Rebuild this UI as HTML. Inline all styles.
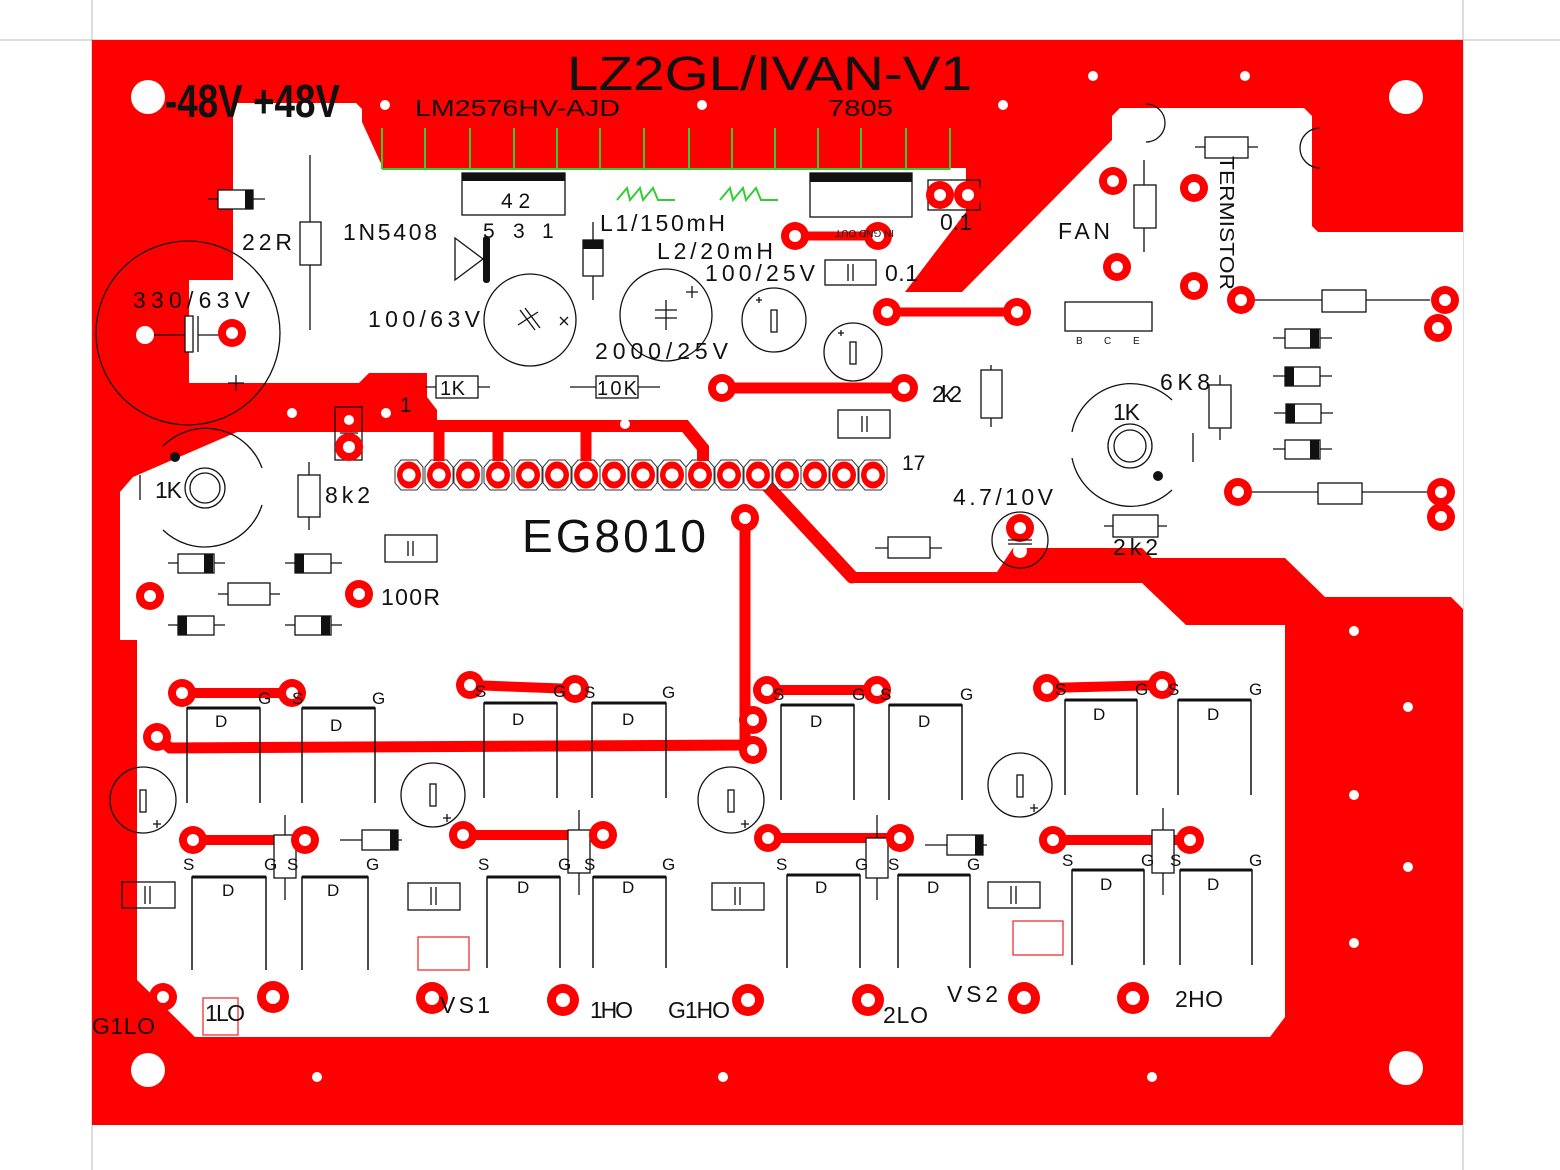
<!DOCTYPE html>
<html><head><meta charset="utf-8"><style>
html,body{margin:0;padding:0;background:#fff;}
svg{display:block;}
text{font-family:"Liberation Sans",sans-serif;fill:#111;}
</style></head><body>
<svg width="1560" height="1170" viewBox="0 0 1560 1170" xmlns="http://www.w3.org/2000/svg">
<defs>
<g id="pad"><circle r="14" fill="#f00"/><circle r="6" fill="#fff"/></g>
<g id="padb"><circle r="16" fill="#f00"/><circle r="7" fill="#fff"/></g>
<g id="hp"><path d="M-8,-15 L8,-15 L14,-8 L14,8 L8,15 L-8,15 L-14,8 L-14,-8 Z" fill="#fff" stroke="#333" stroke-width="1"/><ellipse rx="12" ry="13.5" fill="#f00"/><circle r="6.5" fill="#fff"/></g>
</defs>
<line x1="0" y1="40" x2="1560" y2="40" stroke="#bbb" stroke-width="1"/>
<line x1="92" y1="0" x2="92" y2="1170" stroke="#bbb" stroke-width="1"/>
<line x1="1463" y1="0" x2="1463" y2="1170" stroke="#bbb" stroke-width="1"/>
<rect x="92" y="40" width="1371" height="1085" fill="#f00"/>
<!-- white interior -->
<path d="M233,103 L356,103 L362,109 L362,122 L383,168 L966,168 L966,212 L905,292 L962,292 L1112,140 L1112,116 L1120,108 L1304,108 L1312,116 L1312,226 L1318,232 L1463,232 L1463,645 L1285,645 L1285,1017 L1270,1037 L195,1037 L137,980 L137,640 L120,640 L120,492 L133,477 L237,432 L237,383 L189,383 L189,280 L233,280 Z" fill="#fff"/>
<!-- left red band -->
<path d="M189,383 L359,383 L369,373 L427,373 L427,397 L437,410 L437,432 L237,432 Z" fill="#f00"/>
<!-- right-mid band -->
<path d="M850,572 L997,572 L1013,548 L1142,548 L1152,558 L1285,558 L1325,597 L1451,597 L1463,609 L1463,645 L1285,645 L1285,625 L1186,625 L1142,583 L850,583 Z" fill="#f00"/>
<!-- traces -->
<g stroke="#f00" stroke-linecap="round" fill="none">
<path d="M436,426 L685,426 L703,448 L703,475" stroke-width="12"/>
<line x1="439" y1="426" x2="439" y2="470" stroke-width="11"/>
<line x1="498" y1="426" x2="498" y2="470" stroke-width="11"/>
<line x1="586" y1="426" x2="586" y2="470" stroke-width="11"/>
<path d="M760,478 L852,577" stroke-width="13"/>
<line x1="722" y1="388" x2="904" y2="388" stroke-width="11"/>
<line x1="887" y1="312" x2="1017" y2="312" stroke-width="9"/>
<line x1="795" y1="236" x2="878" y2="236" stroke-width="9"/>
<path d="M745,518 L745,745 L170,748 L157,737" stroke-width="11"/>
<line x1="182" y1="693" x2="292" y2="693" stroke-width="10"/>
<line x1="470" y1="685" x2="575" y2="689" stroke-width="10"/>
<line x1="767" y1="690" x2="877" y2="690" stroke-width="10"/>
<line x1="1047" y1="688" x2="1162" y2="685" stroke-width="10"/>
<line x1="193" y1="840" x2="305" y2="840" stroke-width="10"/>
<line x1="463" y1="835" x2="603" y2="835" stroke-width="10"/>
<line x1="768" y1="838" x2="900" y2="838" stroke-width="10"/>
<line x1="1053" y1="840" x2="1190" y2="840" stroke-width="10"/>
</g>
<!-- white holes -->
<g fill="#fff">
<circle cx="148" cy="97" r="17"/><circle cx="1406" cy="97" r="17"/><circle cx="148" cy="1070" r="17"/><circle cx="1406" cy="1068" r="17"/>
<circle cx="385" cy="105" r="5"/><circle cx="702" cy="105" r="5"/><circle cx="1003" cy="105" r="5"/><circle cx="1093" cy="76" r="5"/><circle cx="1245" cy="76" r="5"/>
<circle cx="292" cy="413" r="5"/><circle cx="386" cy="413" r="5"/><circle cx="625" cy="424" r="5"/>
<circle cx="1354" cy="631" r="5"/><circle cx="1408" cy="707" r="5"/><circle cx="1354" cy="795" r="5"/><circle cx="1408" cy="867" r="5"/><circle cx="1354" cy="943" r="5"/>
<circle cx="317" cy="1077" r="5"/><circle cx="723" cy="1077" r="5"/><circle cx="1152" cy="1077" r="5"/>
</g>
<!-- green comb -->
<g stroke="#3c3" stroke-width="2" fill="none">
<line x1="382" y1="169" x2="950" y2="169"/>
<path d="M382,128V169M425,128V169M470,128V169M514,128V169M557,128V169M600,128V169M644,128V169M689,128V169M732,128V169M775,128V169M818,128V169M861,128V169M906,128V169M950,128V169"/>
<path d="M617,200 L627,188 L630,200 L640,188 L643,200 L653,188 L658,200 L675,200"/>
<path d="M720,200 L730,188 L733,200 L743,188 L746,200 L756,188 L761,200 L778,200"/>
</g>
<!-- titles -->
<text x="165" y="117" font-size="46" font-weight="bold" textLength="175" lengthAdjust="spacingAndGlyphs">-48V +48V</text>
<text x="567" y="90" font-size="48" textLength="405" lengthAdjust="spacingAndGlyphs">LZ2GL/IVAN-V1</text>
<text x="415" y="116" font-size="23" textLength="205" lengthAdjust="spacingAndGlyphs">LM2576HV-AJD</text>
<text x="828" y="116" font-size="23" textLength="65" lengthAdjust="spacingAndGlyphs">7805</text>
<!-- outlines (black) -->
<g stroke="#111" stroke-width="1.3" fill="none">
<line x1="208" y1="199" x2="265" y2="199"/><rect x="218" y="190" width="35" height="19" fill="#fff"/>
<line x1="310" y1="155" x2="310" y2="330"/><rect x="300" y="222" width="21" height="43" fill="#fff"/>
<circle cx="188" cy="333" r="92"/>
<line x1="153" y1="335" x2="185" y2="335"/><rect x="185" y="316" width="8" height="36" fill="#fff"/><line x1="198" y1="316" x2="198" y2="352"/><line x1="198" y1="335" x2="220" y2="335"/>
<line x1="228" y1="383" x2="244" y2="383"/><line x1="236" y1="375" x2="236" y2="391"/>
<rect x="462" y="173" width="103" height="42" fill="#fff"/>
<path d="M455,238 L455,280 L483,259 Z"/>
<circle cx="530" cy="320" r="46"/>
<path d="M520,310 L535,330 M525,308 L540,328 M518,325 L538,312"/><path d="M560,317 L568,325 M568,317 L560,325"/>
<line x1="593" y1="222" x2="593" y2="300"/><rect x="583" y="240" width="20" height="36" fill="#fff"/>
<circle cx="666" cy="315" r="46"/>
<line x1="655" y1="310" x2="677" y2="310"/><line x1="655" y1="318" x2="677" y2="318"/><line x1="666" y1="300" x2="666" y2="330"/>
<path d="M686,292 H698 M692,286 V298"/>
<rect x="810" y="173" width="102" height="44" fill="#fff"/>
<rect x="825" y="260" width="51" height="25"/><path d="M848,264V281M853,264V281"/>
<circle cx="774" cy="320" r="32"/><rect x="771" y="310" width="6" height="22"/><path d="M756,300h6M759,297v6"/>
<circle cx="853" cy="352" r="29"/><rect x="850" y="342" width="6" height="22"/><path d="M838,333h6M841,330v6"/>
<rect x="928" y="180" width="52" height="30"/>
<line x1="425" y1="387" x2="490" y2="387"/><rect x="436" y="376" width="42" height="22" fill="#fff"/>
<line x1="570" y1="387" x2="660" y2="387"/><rect x="596" y="376" width="42" height="22" fill="#fff"/>
<line x1="991" y1="365" x2="991" y2="427"/><rect x="981" y="370" width="21" height="48" fill="#fff"/>
<rect x="838" y="410" width="52" height="28"/><path d="M862,416V432M867,416V432"/>
<rect x="335" y="407" width="27" height="53"/>
<line x1="340" y1="433" x2="358" y2="433"/>
<circle cx="205" cy="488" r="20"/><circle cx="205" cy="488" r="15"/>
<path d="M163,446 A60,60 0 0 1 262,468 M262,505 A60,60 0 0 1 163,530"/>
<line x1="140" y1="475" x2="140" y2="500"/>
<line x1="309" y1="462" x2="309" y2="530"/><rect x="298" y="475" width="22" height="42" fill="#fff"/>
<rect x="385" y="535" width="52" height="27"/><path d="M408,541V556M413,541V556"/>
<line x1="168" y1="563" x2="225" y2="563"/><rect x="178" y="554" width="36" height="19" fill="#fff"/>
<line x1="285" y1="563" x2="342" y2="563"/><rect x="295" y="554" width="36" height="19" fill="#fff"/>
<line x1="168" y1="625" x2="225" y2="625"/><rect x="178" y="616" width="36" height="19" fill="#fff"/>
<line x1="285" y1="625" x2="342" y2="625"/><rect x="295" y="616" width="36" height="19" fill="#fff"/>
<line x1="218" y1="594" x2="280" y2="594"/><rect x="228" y="583" width="42" height="22" fill="#fff"/>
<line x1="1144" y1="160" x2="1144" y2="252"/><rect x="1134" y="185" width="22" height="43" fill="#fff"/>
<line x1="1195" y1="147" x2="1258" y2="147"/><rect x="1205" y="137" width="43" height="21" fill="#fff"/>
<path d="M1146,104 A19,19 0 1,1 1146,142"/><path d="M1320,128 A20,20 0 1,0 1320,168"/>
<rect x="1065" y="302" width="87" height="29"/>
<line x1="1255" y1="300" x2="1430" y2="300"/><rect x="1322" y="290" width="44" height="22" fill="#fff"/>
<line x1="1252" y1="492" x2="1428" y2="492"/><rect x="1318" y="483" width="44" height="21" fill="#fff"/>
<line x1="1273" y1="338" x2="1332" y2="338"/><rect x="1285" y="329" width="35" height="19" fill="#fff"/>
<line x1="1273" y1="376" x2="1332" y2="376"/><rect x="1285" y="367" width="35" height="19" fill="#fff"/>
<line x1="1274" y1="413" x2="1333" y2="413"/><rect x="1286" y="404" width="35" height="19" fill="#fff"/>
<line x1="1273" y1="449" x2="1332" y2="449"/><rect x="1285" y="440" width="35" height="19" fill="#fff"/>
<line x1="1220" y1="375" x2="1220" y2="440"/><rect x="1209" y="385" width="22" height="43" fill="#fff"/>
<circle cx="1130" cy="446" r="22"/><circle cx="1130" cy="446" r="16"/>
<path d="M1072,432 A60,60 0 0 1 1172,400 M1072,458 A60,60 0 0 0 1172,490"/>
<line x1="1193" y1="433" x2="1193" y2="462"/>
<circle cx="1020" cy="540" r="28"/>
<line x1="1104" y1="526" x2="1167" y2="526"/><rect x="1113" y="515" width="45" height="22" fill="#fff"/>
<line x1="875" y1="548" x2="942" y2="548"/><rect x="888" y="537" width="42" height="21" fill="#fff"/>
<circle cx="143" cy="800" r="33"/><rect x="140" y="790" width="6" height="22"/><path d="M153,824h8M157,820v8"/>
<circle cx="433" cy="795" r="32"/><rect x="430" y="784" width="6" height="22"/><path d="M443,818h8M447,814v8"/>
<circle cx="731" cy="800" r="33"/><rect x="728" y="790" width="6" height="22"/><path d="M741,824h8M745,820v8"/>
<circle cx="1020" cy="785" r="32"/><rect x="1017" y="775" width="6" height="22"/><path d="M1030,808h8M1034,804v8"/>
<line x1="340" y1="840" x2="402" y2="840"/><rect x="362" y="830" width="36" height="20" fill="#fff"/>
<line x1="925" y1="845" x2="987" y2="845"/><rect x="947" y="835" width="36" height="20" fill="#fff"/>
<rect x="122" y="882" width="53" height="26"/><path d="M145,886V904M150,886V904"/>
<rect x="408" y="883" width="52" height="27"/><path d="M431,887V905M436,887V905"/>
<rect x="712" y="883" width="52" height="27"/><path d="M735,887V905M740,887V905"/>
<rect x="988" y="882" width="52" height="26"/><path d="M1011,886V904M1016,886V904"/>
<line x1="285" y1="815" x2="285" y2="900"/><rect x="274" y="835" width="22" height="43" fill="#fff"/>
<line x1="579" y1="810" x2="579" y2="895"/><rect x="568" y="830" width="22" height="43" fill="#fff"/>
<line x1="877" y1="815" x2="877" y2="900"/><rect x="866" y="838" width="22" height="40" fill="#fff"/>
<line x1="1163" y1="808" x2="1163" y2="895"/><rect x="1152" y="830" width="22" height="43" fill="#fff"/>
</g>
<g stroke="#111" stroke-width="1.5" fill="none">
<path d="M187,803V708H260V803M302,803V708H375V803"/>
<path d="M484,798V703H557V798M592,798V703H666V798"/>
<path d="M781,800V705H854V800M889,800V705H962V800"/>
<path d="M1065,795V700H1137V795M1178,795V700H1251V795"/>
<path d="M192,970V877H266V970M302,970V877H368V970"/>
<path d="M487,968V877H560V968M593,968V877H666V968"/>
<path d="M787,968V875H860V968M898,968V875H970V968"/>
<path d="M1072,965V870H1144V965M1180,965V870H1252V965"/>
</g>
<g stroke="#111" stroke-width="3">
<path d="M187,708H260M302,708H375M484,703H557M592,703H666M781,705H854M889,705H962M1065,700H1137M1178,700H1251"/>
<path d="M192,877H266M302,877H368M487,877H560M593,877H666M787,875H860M898,875H970M1072,870H1144M1180,870H1252"/>
</g>
<g fill="#111">
<rect x="245" y="190" width="8" height="19"/>
<rect x="462" y="173" width="103" height="8"/>
<rect x="810" y="173" width="102" height="9"/>
<rect x="583" y="240" width="20" height="9"/>
<rect x="483" y="236" width="7" height="47" rx="3"/>
<circle cx="175" cy="457" r="5"/><circle cx="1158" cy="476" r="5"/>
<rect x="204" y="554" width="9" height="19"/><rect x="295" y="554" width="9" height="19"/>
<rect x="178" y="616" width="9" height="19"/><rect x="321" y="616" width="9" height="19"/>
<rect x="1310" y="329" width="9" height="19"/><rect x="1285" y="367" width="9" height="19"/>
<rect x="1286" y="404" width="9" height="19"/><rect x="1310" y="440" width="9" height="19"/>
<rect x="390" y="830" width="8" height="20"/><rect x="975" y="835" width="8" height="20"/>
</g>
<g stroke="#e33" stroke-width="1.3" fill="none">
<rect x="418" y="937" width="51" height="33"/><rect x="1013" y="921" width="50" height="34"/><rect x="203" y="998" width="35" height="37"/>
</g>
<use href="#pad" x="232" y="333"/>
<circle cx="145" cy="335" r="9" fill="#fff"/>
<use href="#pad" x="795" y="236"/><use href="#pad" x="878" y="236"/>
<use href="#pad" x="940" y="195"/><use href="#pad" x="968" y="195"/>
<use href="#pad" x="887" y="312"/><use href="#pad" x="1017" y="312"/>
<use href="#pad" x="722" y="388"/><use href="#pad" x="904" y="388"/>
<circle cx="349" cy="420" r="5" fill="#fff"/><use href="#pad" x="349" y="447"/>
<g>
<use href="#hp" x="409" y="475"/><use href="#hp" x="439" y="475"/><use href="#hp" x="468" y="475"/><use href="#hp" x="498" y="475"/><use href="#hp" x="528" y="475"/><use href="#hp" x="557" y="475"/><use href="#hp" x="586" y="475"/><use href="#hp" x="614" y="475"/><use href="#hp" x="643" y="475"/><use href="#hp" x="672" y="475"/><use href="#hp" x="700" y="475"/><use href="#hp" x="729" y="475"/><use href="#hp" x="758" y="475"/><use href="#hp" x="787" y="475"/><use href="#hp" x="815" y="475"/><use href="#hp" x="844" y="475"/><use href="#hp" x="873" y="475"/>
</g>
<path d="M439,461V440M498,461V440M586,461V440M703,461V445" stroke="#f00" stroke-width="11"/>
<use href="#pad" x="1113" y="181"/><use href="#pad" x="1194" y="188"/><use href="#pad" x="1117" y="267"/><use href="#pad" x="1194" y="286"/>
<use href="#pad" x="1241" y="300"/><use href="#pad" x="1445" y="300"/><use href="#pad" x="1438" y="328"/>
<use href="#pad" x="1238" y="492"/><use href="#pad" x="1441" y="492"/><use href="#pad" x="1441" y="517"/>
<use href="#pad" x="1020" y="528"/><circle cx="1020" cy="551" r="7" fill="#fff"/>
<path d="M1008,540H1032M1008,544H1032" stroke="#111" stroke-width="1.3"/>
<use href="#pad" x="150" y="596"/><use href="#pad" x="359" y="594"/>
<use href="#pad" x="745" y="518"/><use href="#pad" x="753" y="720"/><use href="#pad" x="753" y="750"/><use href="#pad" x="157" y="737"/>
<use href="#pad" x="182" y="693"/><use href="#pad" x="292" y="693"/><use href="#pad" x="470" y="685"/><use href="#pad" x="575" y="689"/>
<use href="#pad" x="767" y="690"/><use href="#pad" x="877" y="690"/><use href="#pad" x="1047" y="688"/><use href="#pad" x="1162" y="685"/>
<use href="#pad" x="193" y="840"/><use href="#pad" x="305" y="840"/><use href="#pad" x="463" y="835"/><use href="#pad" x="603" y="835"/>
<use href="#pad" x="768" y="838"/><use href="#pad" x="900" y="838"/><use href="#pad" x="1053" y="840"/><use href="#pad" x="1190" y="840"/>
<use href="#pad" x="163" y="997"/><use href="#padb" x="273" y="997"/><use href="#padb" x="432" y="998"/><use href="#padb" x="563" y="1000"/>
<use href="#padb" x="748" y="1000"/><use href="#padb" x="868" y="1000"/><use href="#padb" x="1024" y="998"/><use href="#padb" x="1133" y="998"/>
<g font-size="23" lengthAdjust="spacingAndGlyphs">
<text x="242" y="250" textLength="50">22R</text>
<text x="343" y="240" textLength="94">1N5408</text>
<text x="133" y="308" textLength="117">330/63V</text>
<text x="368" y="327" textLength="112">100/63V</text>
<text x="600" y="231" textLength="125">L1/150mH</text>
<text x="657" y="259" textLength="116">L2/20mH</text>
<text x="705" y="281" textLength="110">100/25V</text>
<text x="885" y="281" textLength="33">0.1</text>
<text x="940" y="230" textLength="32">0.1</text>
<text x="595" y="359" textLength="133">2000/25V</text>
<text x="1058" y="239" textLength="52">FAN</text>
<text x="1160" y="390" textLength="50">6K8</text>
<text x="953" y="505" textLength="100">4.7/10V</text>
<text x="381" y="605" textLength="59">100R</text>
<text x="325" y="503" textLength="45">8k2</text>
<text x="440" y="1013" textLength="50">VS1</text>
<text x="590" y="1018" textLength="43">1HO</text>
<text x="668" y="1018" textLength="62">G1HO</text>
<text x="883" y="1023" textLength="45">2LO</text>
<text x="947" y="1002" textLength="51">VS2</text>
<text x="1175" y="1007" textLength="48">2HO</text>
<text x="205" y="1021" textLength="40">1LO</text>
<text x="92" y="1034" textLength="63">G1LO</text>
<text x="1113" y="555" textLength="45">2k2</text>
<text x="932" y="402" textLength="30">2k2</text>
<text x="1113" y="420" textLength="27">1K</text>
<text x="155" y="498" textLength="27">1K</text>
<text x="440" y="395" font-size="20" textLength="25">1K</text>
<text x="597" y="395" font-size="20" textLength="40">10K</text>
<text x="522" y="552" font-size="46" textLength="184">EG8010</text>
</g>
<g font-size="21">
<text x="501" y="208">4 2</text>
<text x="483" y="238">5</text><text x="513" y="238">3</text><text x="542" y="238">1</text>
<text x="400" y="412">1</text>
<text x="902" y="470">17</text>
</g>
<text x="820" y="222" font-size="10" transform="rotate(180 857 226)">IN GND OUT</text>
<g font-size="10"><text x="1076" y="344">B</text><text x="1104" y="344">C</text><text x="1133" y="344">E</text></g>
<text x="1220" y="156" font-size="20" transform="rotate(90 1220 156)" textLength="134" lengthAdjust="spacingAndGlyphs">TERMISTOR</text>
<g font-size="17">
<text x="215" y="727">D</text><text x="330" y="731">D</text><text x="512" y="725">D</text><text x="622" y="725">D</text>
<text x="810" y="727">D</text><text x="918" y="727">D</text><text x="1093" y="720">D</text><text x="1207" y="720">D</text>
<text x="222" y="896">D</text><text x="327" y="896">D</text><text x="517" y="893">D</text><text x="622" y="893">D</text>
<text x="815" y="893">D</text><text x="927" y="893">D</text><text x="1100" y="890">D</text><text x="1207" y="890">D</text>
<text x="292" y="704">S</text><text x="475" y="697">S</text><text x="584" y="698">S</text><text x="773" y="700">S</text><text x="880" y="700">S</text><text x="1055" y="695">S</text><text x="1168" y="695">S</text>
<text x="183" y="870">S</text><text x="287" y="870">S</text><text x="478" y="870">S</text><text x="584" y="870">S</text><text x="776" y="870">S</text><text x="888" y="870">S</text><text x="1062" y="866">S</text><text x="1170" y="866">S</text>
<text x="258" y="704">G</text><text x="372" y="704">G</text><text x="553" y="697">G</text><text x="662" y="698">G</text><text x="852" y="700">G</text><text x="960" y="700">G</text><text x="1135" y="695">G</text><text x="1249" y="695">G</text>
<text x="264" y="870">G</text><text x="366" y="870">G</text><text x="558" y="870">G</text><text x="662" y="870">G</text><text x="855" y="870">G</text><text x="967" y="870">G</text><text x="1141" y="866">G</text><text x="1249" y="866">G</text>
</g>
</svg>
</body></html>
